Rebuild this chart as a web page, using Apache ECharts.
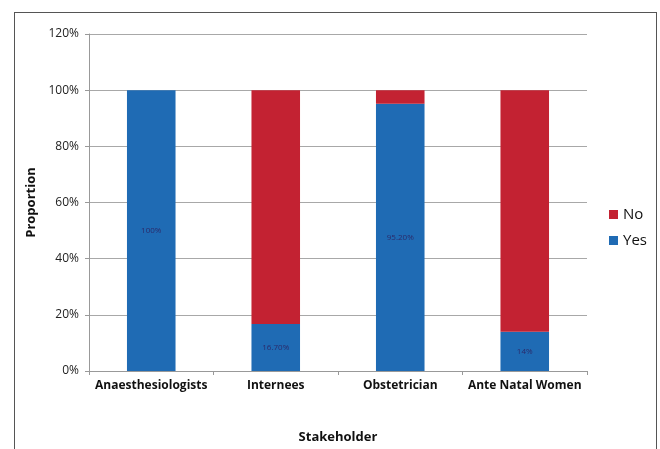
<!DOCTYPE html>
<html><head><meta charset="utf-8">
<script src="https://cdn.jsdelivr.net/npm/echarts@6/dist/echarts.min.js"></script>
<style>html,body{margin:0;padding:0;background:#fff}#frame{position:absolute;left:14px;top:12px;width:643px;height:450px;border:1px solid #555;box-sizing:border-box}#c{width:660px;height:449px;position:absolute;left:0;top:0}</style>
</head><body><div id="frame"></div><div id="c"></div>
<script>
var categories = ['Anaesthesiologists', 'Internees', 'Obstetrician', 'Ante Natal Women'];
var yesValues = [100, 16.7, 95.2, 14];
var noValues = [0, 83.3, 4.8, 86];
var yesLabels = ['100%', '16.70%', '95.20%', '14%'];
var seriesNames = ['Yes', 'No'];

var chart = echarts.init(document.getElementById('c'), null, {renderer: 'canvas'});
chart.setOption({
  animation: false,
  backgroundColor: 'transparent',
  grid: {left: 89, right: 73, top: 34, bottom: 78},
  legend: {
    data: [seriesNames[1], seriesNames[0]],
    orient: 'vertical', left: 604, top: 202, itemWidth: 9, itemHeight: 9, itemGap: 11,
    icon: 'rect',
    textStyle: {fontFamily: 'Open Sans', fontSize: 15, color: '#111'}
  },
  xAxis: {
    type: 'category', data: categories,
    name: 'Stakeholder', nameLocation: 'middle', nameGap: 60,
    nameTextStyle: {fontFamily: 'Open Sans', fontWeight: 'bold', fontSize: 13, color: '#111'},
    axisLine: {lineStyle: {color: '#999'}},
    axisTick: {show: true, length: 4, lineStyle: {color: '#999'}},
    axisLabel: {interval: 0, fontFamily: 'Open Sans', fontWeight: 'bold', fontSize: 12, color: '#111', margin: 9}
  },
  yAxis: {
    type: 'value', min: 0, max: 120, interval: 20,
    name: 'Proportion', nameLocation: 'middle', nameGap: 50, nameRotate: 90,
    nameTextStyle: {fontFamily: 'Open Sans', fontWeight: 'bold', fontSize: 13, color: '#111'},
    axisLine: {show: true, lineStyle: {color: '#999'}},
    axisTick: {show: true, length: 4, lineStyle: {color: '#999'}},
    axisLabel: {formatter: '{value}%', fontFamily: 'Open Sans', fontSize: 12, color: '#222', margin: 10},
    splitLine: {lineStyle: {color: '#a8a8a8'}}
  },
  series: [
    {name: seriesNames[0], type: 'bar', stack: 's', data: yesValues, barWidth: '39%',
     itemStyle: {color: '#1f6bb4'},
     label: {show: true, position: 'inside', fontFamily: 'Open Sans', fontSize: 8, color: '#2b2b6b',
       formatter: function (p) { return yesLabels[p.dataIndex]; }}},
    {name: seriesNames[1], type: 'bar', stack: 's', data: noValues, barWidth: '39%',
     itemStyle: {color: '#c32232'}}
  ]
});
</script></body></html>
